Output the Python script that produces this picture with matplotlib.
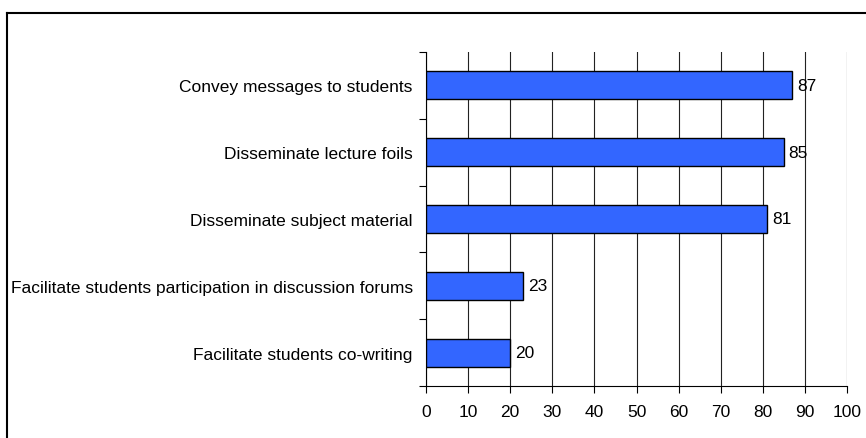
import matplotlib
matplotlib.use("Agg")
import matplotlib.pyplot as plt
from matplotlib.lines import Line2D
import numpy as np

plt.rcParams['font.family'] = ['Liberation Sans', 'DejaVu Sans']

categories = ["Convey messages to students",
              "Disseminate lecture foils",
              "Disseminate subject material",
              "Facilitate students participation in discussion forums",
              "Facilitate students co-writing"]
values = [87, 85, 81, 23, 20]
xticks = [0, 10, 20, 30, 40, 50, 60, 70, 80, 90, 100]

FS = 12.5
W, H = 866, 439
fig = plt.figure(figsize=(W/100, H/100), dpi=100)
ax = fig.add_axes([426/W, 1-387/H, (847-426)/W, (387-53)/H])

y = np.arange(len(categories))
ax.barh(y, values, height=0.42, color='#3366FF', edgecolor='black', linewidth=1, zorder=3)
for yi, v in zip(y, values):
    ax.annotate(str(v), (v, yi), xytext=(3.5, 0), textcoords='offset points',
                va='center', ha='left', fontsize=FS, zorder=4)

ax.set_xlim(0, 100)
ax.set_ylim(len(categories)-0.5, -0.5)
ax.set_xticks(xticks)
ax.set_xticklabels([str(t) for t in xticks], fontsize=FS)
ax.set_yticks(y)
ax.set_yticklabels(categories, fontsize=FS)
ax.set_yticks(np.arange(len(categories)+1)-0.5, minor=True)
ax.tick_params(axis='y', which='major', length=0, pad=9.5)
ax.tick_params(axis='y', which='minor', length=5, width=0.8, direction='out')
ax.tick_params(axis='x', which='major', length=5, width=0.8, direction='out', pad=8)
for s in ['top', 'right']:
    ax.spines[s].set_visible(False)
ax.spines['left'].set_linewidth(0.8)
ax.spines['bottom'].set_linewidth(0.8)
ax.xaxis.grid(True, color='#222222', linewidth=0.8, zorder=0)
ax.set_axisbelow(True)

# outer frame
fig.add_artist(Line2D([7.5/W, 7.5/W], [0, 1-13.5/H], transform=fig.transFigure, color='black', linewidth=1.5))
fig.add_artist(Line2D([7.5/W, 1], [1-13.5/H, 1-13.5/H], transform=fig.transFigure, color='black', linewidth=1.5))

fig.savefig("out.png", dpi=100)
